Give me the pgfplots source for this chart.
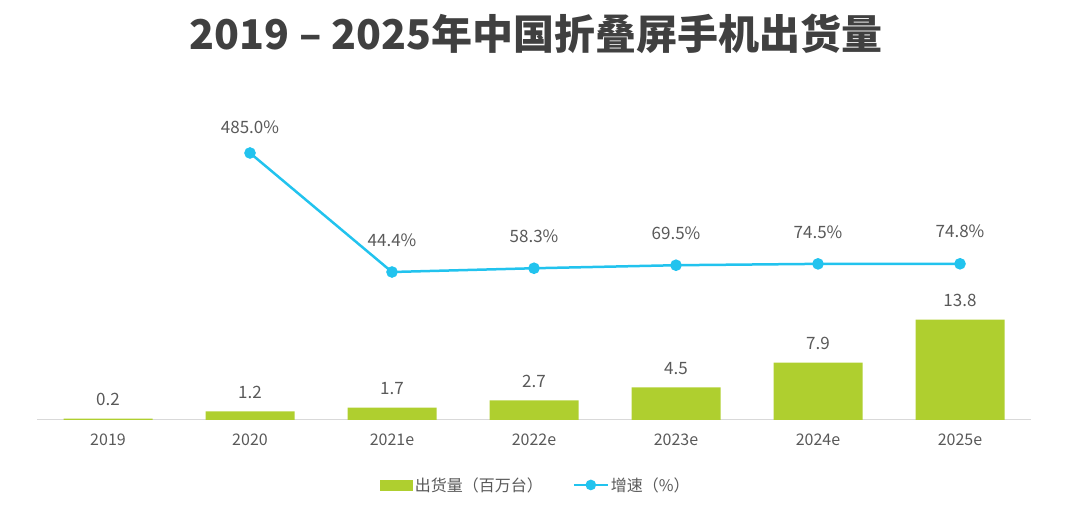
\documentclass[border=0pt]{standalone}
\usepackage{fontspec}
\setmainfont{Noto Sans CJK SC}
\usepackage{pgfplots}
\usepackage{pgfplotstable}
\pgfplotsset{compat=1.18}
\definecolor{bargreen}{HTML}{AFCF2F}
\definecolor{linecyan}{HTML}{22C3EE}
\definecolor{txtgray}{HTML}{595959}
\definecolor{titlegray}{HTML}{404040}
\definecolor{axgray}{HTML}{D9D9D9}
\pgfplotstableread{
x y
0 0.2
1 1.2
2 1.7
3 2.7
4 4.5
5 7.9
6 13.8
}\shipdata
\pgfplotstableread{
x y off
1 485.0 15
2 44.4 21
3 58.3 21
4 69.5 21
5 74.5 21
6 74.8 21
}\growthdata
\begin{document}
\begin{tikzpicture}[x=1pt,y=1pt]
\useasboundingbox (0,0) rectangle (1080,522);
\node[font=\fontsize{41}{45}\selectfont\bfseries, text=titlegray] at (536,488) {2019 – 2025年中国折叠屏手机出货量};
\begin{axis}[
  at={(37pt,102pt)}, anchor=south west,
  width=994pt, height=320pt, scale only axis,
  xmin=-0.5, xmax=6.5, ymin=0, ymax=44,
  axis x line=bottom, axis y line=none,
  x axis line style={draw=axgray, line width=1pt, -},
  xtick={0,...,6},
  xticklabels={2019,2020,2021e,2022e,2023e,2024e,2025e},
  major tick length=0pt,
  xticklabel style={font=\fontsize{16}{19}\selectfont, text=txtgray, yshift=-10pt},
  /pgf/number format/assume math mode=true,
  ybar, bar width=89pt,
  nodes near coords,
  nodes near coords style={font=\fontsize{17}{20}\selectfont, text=txtgray, /pgf/number format/fixed, /pgf/number format/precision=1, /pgf/number format/fixed zerofill, yshift=9pt},
]
\addplot[fill=bargreen, draw=none] table[x=x,y=y] {\shipdata};
\end{axis}
\begin{axis}[
  at={(37pt,102pt)}, anchor=south west,
  width=994pt, height=320pt, scale only axis,
  xmin=-0.5, xmax=6.5, ymin=-503.5, ymax=681.2,
  axis lines=none,
  /pgf/number format/assume math mode=true,
  legend style={at={(axis description cs:0.502,-0.203)}, anchor=center, draw=none, fill=none, legend columns=2, font=\fontsize{16}{19}\selectfont, text=txtgray, /tikz/every even column/.append style={column sep=28pt}},
]
\addlegendimage{legend image code/.code={\fill[bargreen] (0pt,-5pt) rectangle (32pt,5pt);}}
\addlegendentry{出货量（百万台）}
\addplot[linecyan, line width=2.5pt, mark=*, mark size=4.5pt, mark options={fill=linecyan, draw=linecyan},
  legend image code/.code={\draw[linecyan, line width=2pt] (0pt,0pt) -- (34pt,0pt); \fill[linecyan] (17pt,0pt) circle (4pt);},
  visualization depends on={\thisrow{off} \as \off},
  nodes near coords={\pgfmathprintnumber[fixed, precision=1, fixed zerofill]{\pgfplotspointmeta}\%},
  nodes near coords style={font=\fontsize{17}{20}\selectfont, text=txtgray, anchor=south, yshift=\off pt},
] table[x=x,y=y] {\growthdata};
\addlegendentry{增速（\%）}
\end{axis}
\end{tikzpicture}
\end{document}
